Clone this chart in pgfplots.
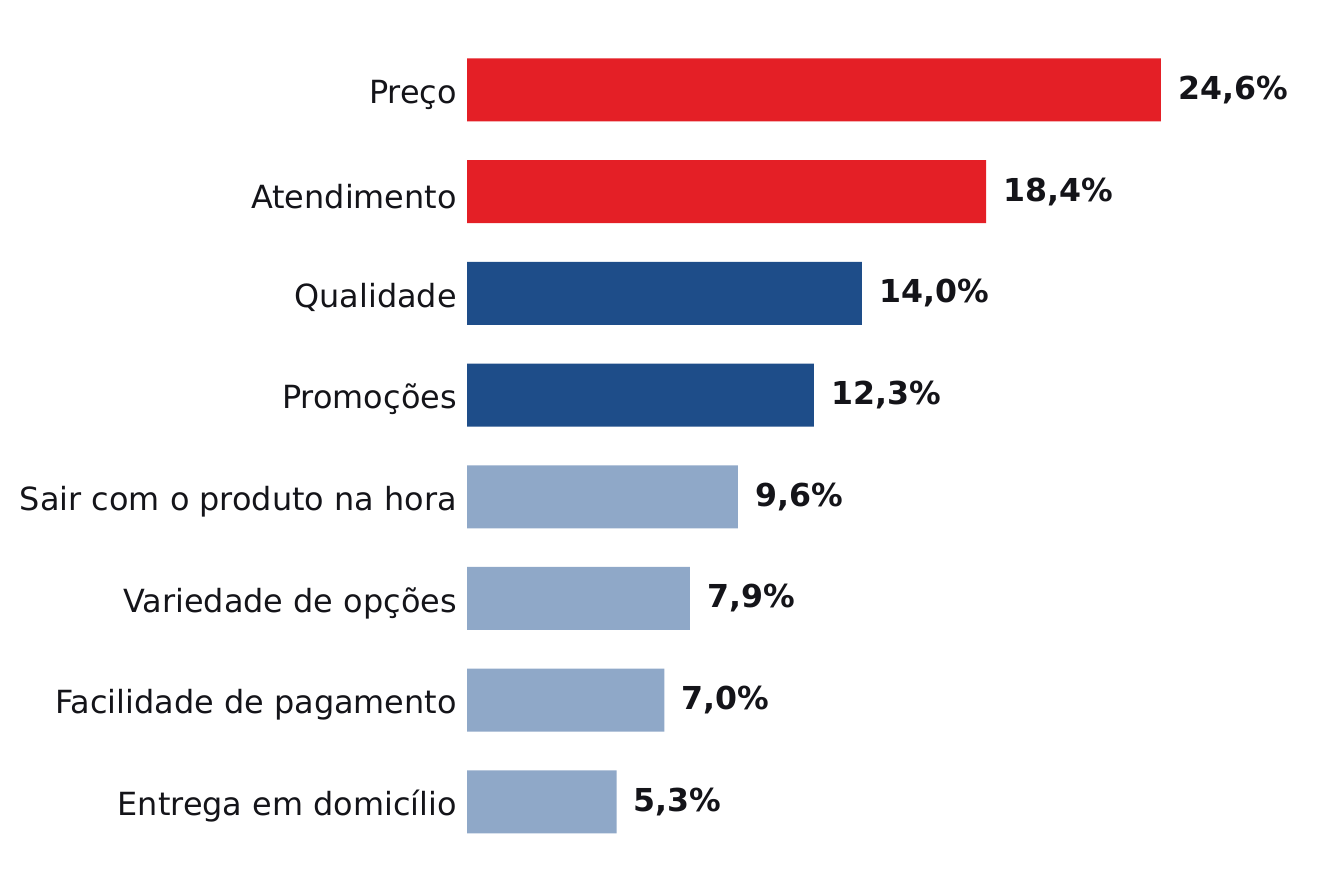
\documentclass[border=0pt]{standalone}
\usepackage{fontspec}
\setmainfont{DejaVu Sans}
\usepackage{pgfplots}
\pgfplotsset{compat=1.18}
\definecolor{cred}{RGB}{228,31,38}
\definecolor{cdark}{RGB}{30,77,137}
\definecolor{clight}{RGB}{143,168,200}
\definecolor{ctext}{RGB}{20,20,25}
\begin{document}
\begin{tikzpicture}[x=1pt,y=1pt]
\useasboundingbox (0,0) rectangle (1333,893);
\begin{axis}[
  at={(467pt,40.25pt)}, anchor=south west,
  scale only axis, width=846.3pt, height=813.6pt,
  xmin=0, xmax=30, ymin=-0.5, ymax=7.5,
  xbar, bar width=63pt, bar shift=0pt,
  hide x axis,
  y axis line style={draw=none},
  ytick={0,...,7},
  yticklabels={Entrega em domicílio, Facilidade de pagamento, Variedade de opções, Sair com o produto na hora, Promoções, Qualidade, Atendimento, Preço},
  major tick length=0pt,
  yticklabel style={font=\fontsize{31.9}{36}\selectfont, text=ctext, inner sep=0pt, xshift=-10pt, yshift=-4.5pt},
  nodes near coords={\pgfmathprintnumber[assume math mode=true,fixed,fixed zerofill,precision=1,use comma]{\pgfplotspointmeta}\%},
  nodes near coords style={font=\fontsize{31.6}{36}\selectfont\bfseries, text=ctext, inner sep=0pt, xshift=17pt, anchor=west},
  point meta=x,
  clip=false,
  every axis plot/.append style={draw=none},
]
\addplot[fill=cred] coordinates {(24.6,7) (18.4,6)};
\addplot[fill=cdark] coordinates {(14.0,5) (12.3,4)};
\addplot[fill=clight] coordinates {(9.6,3) (7.9,2) (7.0,1) (5.3,0)};
\end{axis}
\end{tikzpicture}
\end{document}
